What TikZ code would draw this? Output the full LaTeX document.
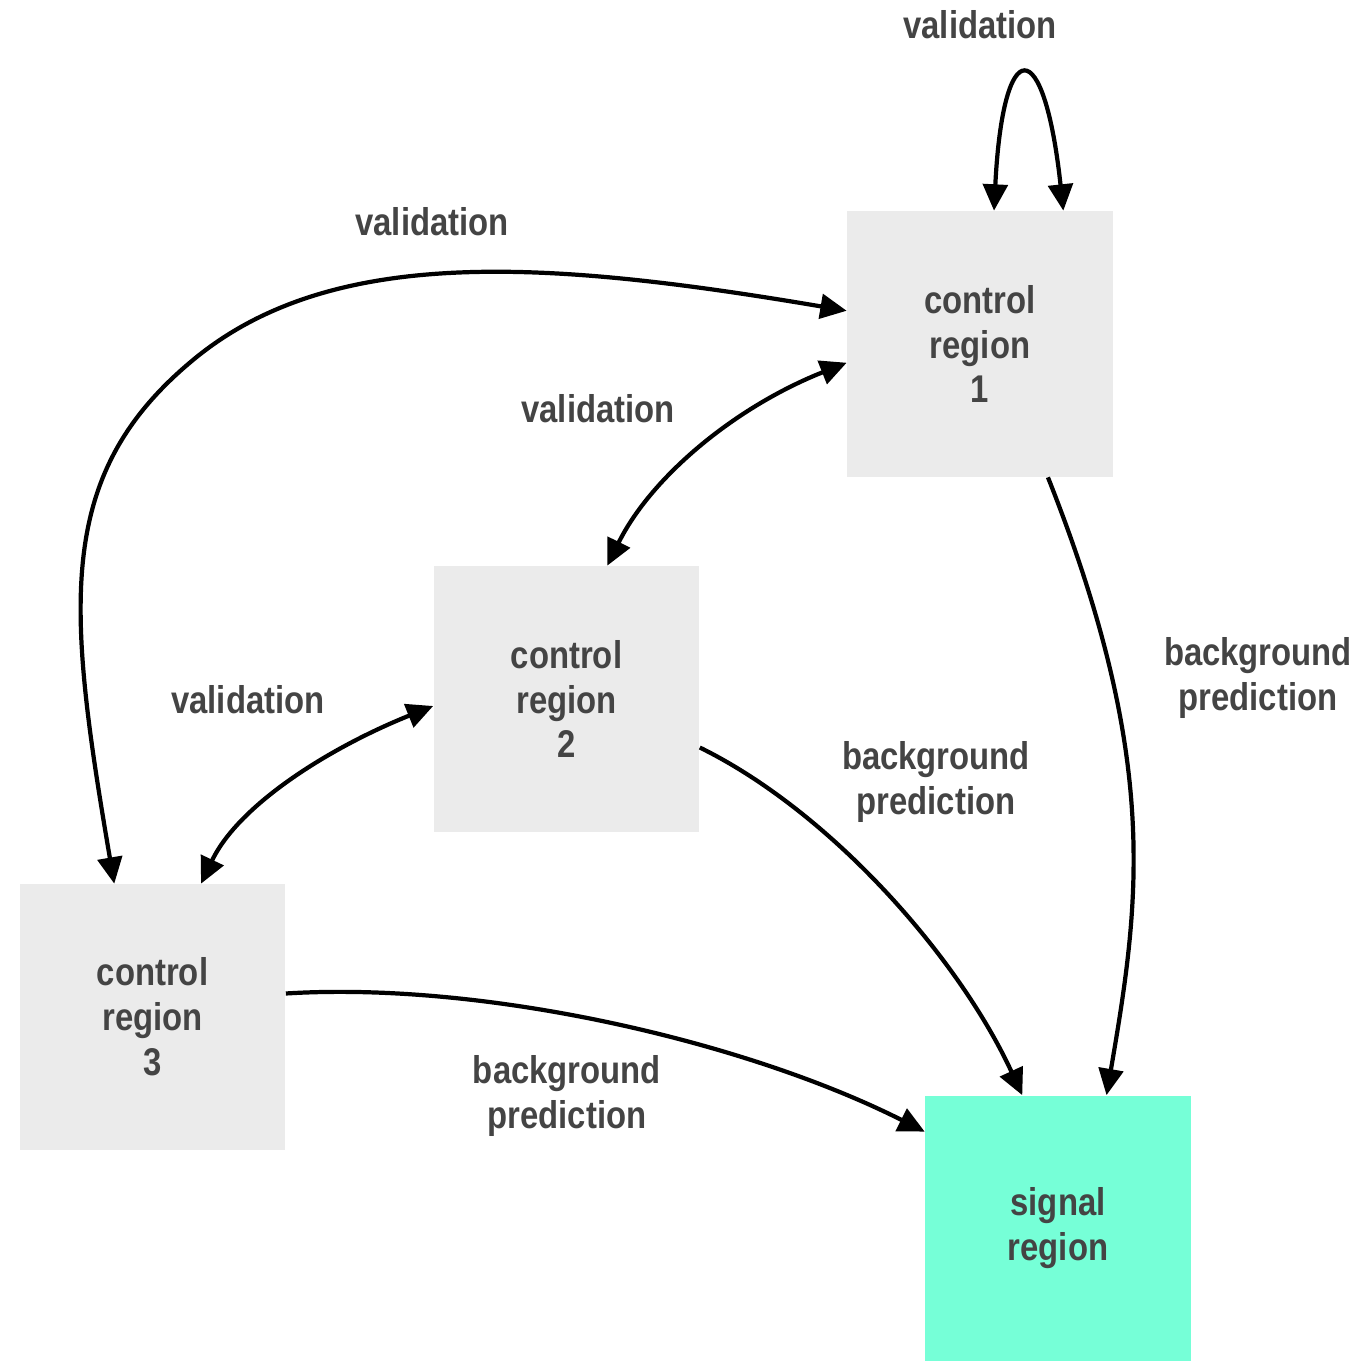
\documentclass[tikz,border=0pt]{standalone}
\usepackage{fontspec}
\setmainfont[FakeStretch=0.85]{Liberation Sans}
\usetikzlibrary{arrows.meta, positioning}
\definecolor{crgray}{HTML}{EBEBEB}
\definecolor{srgreen}{HTML}{76FFD7}
\definecolor{txtgray}{HTML}{444444}
\tikzset{
  region/.style={rectangle, fill=crgray, minimum size=5.32cm, inner sep=0pt,
    align=center, text=txtgray, font=\bfseries\fontsize{22}{25.6}\selectfont},
  lbl/.style={align=center, text=txtgray, font=\bfseries\fontsize{22}{25.6}\selectfont},
  flow/.style={line width=2.4pt, -{Triangle[length=15pt,width=14pt]}},
  twoway/.style={line width=2.4pt,
    {Triangle[length=15pt,width=14pt]}-{Triangle[length=15pt,width=14pt]}}
}

\begin{document}
\begin{tikzpicture}[x=0.02cm, y=-0.02cm]
  \useasboundingbox (0,0) rectangle (1361,1361);
  % regions
  \node[region] (cr1) at (980,344) {control\\region\\1};
  \node[region] (cr2) at (566.5,699) {control\\region\\2};
  \node[region] (cr3) at (152.5,1017) {control\\region\\3};
  \node[region, fill=srgreen] (sr) at (1058,1228.5) {signal\\region};
  % labels
  \node[lbl] (val1) at (980,25) {validation};
  \node[lbl] (val13) at (432,222) {validation};
  \node[lbl] (val12) at (598,409) {validation};
  \node[lbl] (val23) at (248,700) {validation};
  \node[lbl] (bkg1) at (1258,678) {background\\prediction};
  \node[lbl] (bkg2) at (936,782) {background\\prediction};
  \node[lbl] (bkg3) at (567,1096) {background\\prediction};
  % validation arrows
  \draw[twoway] (cr1.84.4) .. controls (1003,32) and (1044,32) .. (cr1.58);
  \draw[twoway] (cr3.106.9) .. controls (67,607) and (54,475) .. (193,360)
    .. controls (331.6,244.8) and (547,260) .. (cr1.166);
  \draw[twoway] (cr1.188.1) .. controls (735,407) and (651,477) .. (cr2.73.5);
  \draw[twoway] (cr2.183) .. controls (331,747) and (239,804) .. (cr3.70.7);
  % background prediction arrows
  \draw[flow] (cr1.297.9) .. controls (1160,760) and (1140,900) .. (sr.70.9);
  \draw[flow] (cr2.340.6) .. controls (833,813) and (960,960) .. (sr.105.2);
  \draw[flow] (cr3.10.2) .. controls (486,981) and (747,1042) .. (sr.144);
\end{tikzpicture}
\end{document}
